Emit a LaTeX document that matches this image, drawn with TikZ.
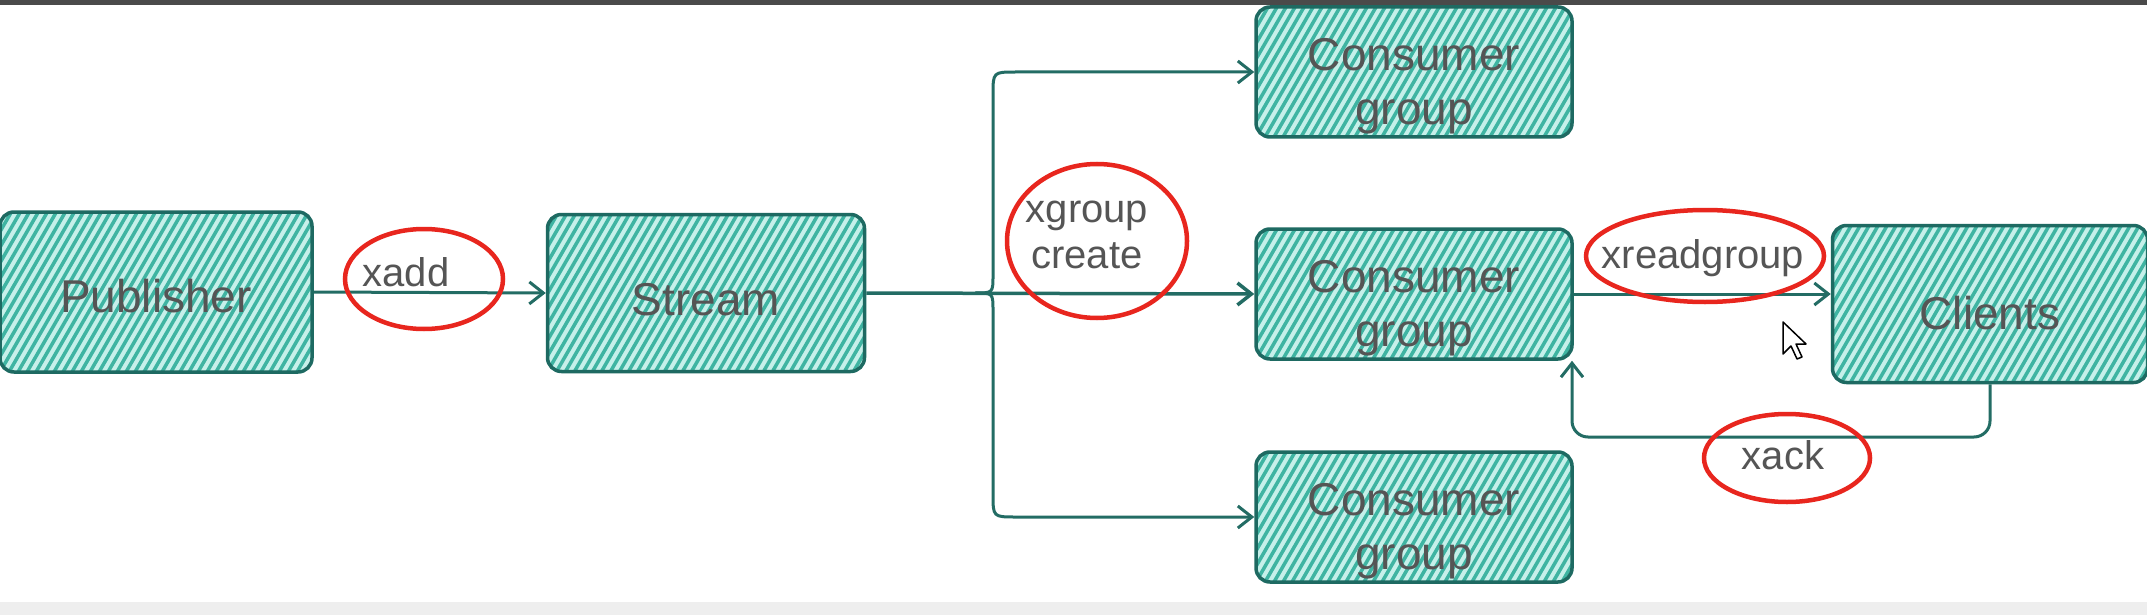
\documentclass[tikz,border=0pt]{standalone}
\usepackage{fontspec}
\setmainfont{Liberation Sans}
\usetikzlibrary{arrows.meta}
\definecolor{boxfill}{HTML}{C6F0EA}
\definecolor{hatchc}{HTML}{3FB4A2}
\definecolor{boxline}{HTML}{1E6A62}
\definecolor{connc}{HTML}{236C64}
\definecolor{txtc}{HTML}{555555}
\definecolor{markred}{HTML}{E8261E}
\definecolor{topbar}{HTML}{4A4A4A}
\definecolor{botband}{HTML}{EEEEEE}
\newcommand\lowertext[2]{\raisebox{#1}[0pt][0pt]{\begin{tabular}{@{}c@{}}#2\end{tabular}}}
\begin{document}
\begin{tikzpicture}[x=1pt,y=-1pt,
  hbox/.style={draw=boxline, line width=3.5pt, fill=boxfill, rounded corners=14pt,
    inner sep=0pt, align=center, text=txtc, font=\fontsize{46}{54}\selectfont,
    path picture={\foreach \k in {-14,...,40}{\draw[hatchc, line width=3.5pt]
      ([xshift=\k*9pt]path picture bounding box.south west) -- ++(60:220pt);}}},
  conn/.style={draw=connc, line width=3pt, -{Straight Barb[length=14pt,width=22pt]}},
  lbl/.style={text=txtc, font=\fontsize{40}{46}\selectfont, align=center, inner sep=0pt},
  redmark/.style={draw=markred, line width=4.5pt}]
\useasboundingbox (0,0) rectangle (2147,615);
\fill[white] (0,0) rectangle (2147,615);
\fill[topbar] (0,0) rectangle (2147,5);
\fill[botband] (0,602) rectangle (2147,615);

% boxes
\node[hbox, minimum width=312pt, minimum height=160pt] (pub) at (156,292) {\lowertext{-16pt}{Publisher}};
\node[hbox, minimum width=317pt, minimum height=157pt] (stream) at (706,293) {\lowertext{-18pt}{Stream}};
\node[hbox, minimum width=316pt, minimum height=130pt] (cg1) at (1414,72) {\lowertext{-21pt}{Consumer\\group}};
\node[hbox, minimum width=316pt, minimum height=130pt] (cg2) at (1414,294) {\lowertext{-21pt}{Consumer\\group}};
\node[hbox, minimum width=316pt, minimum height=130pt] (cg3) at (1414,517) {\lowertext{-21pt}{Consumer\\group}};
\node[hbox, minimum width=315pt, minimum height=157pt] (cli) at (1990,304) {\lowertext{-21pt}{Clients}};

% connectors
\draw[conn] (pub.east) -- (stream.west);
\coordinate (cusp) at (975,293);
\draw[conn, line width=3.5pt] (stream.east) -- (cg2.west);
\draw[conn] (cusp) .. controls (993,293) .. (993,275) -- (993,95)
  .. controls (993,72) .. (1016,72) -- (cg1.west);
\draw[conn] (cusp) .. controls (993,293) .. (993,311) -- (993,494)
  .. controls (993,517) .. (1016,517) -- (cg3.west);
\draw[conn] (cg2.east) -- (cg2.east -| cli.west);
\coordinate (ret) at (1572,437);
\draw[conn, rounded corners=16pt] (cli.south) |- (ret) -- (ret |- cg2.south);

% labels
\node[lbl] (lxadd) at (406,272) {xadd};
\node[lbl] (lxgc) at (1087,235) {xgroup\\create};
\node[lbl] (lxrg) at (1703,258) {xreadgroup};
\node[lbl] (lxack) at (1783,455) {xack};

% red marks
\draw[redmark] (424,279) ellipse (79 and 50);
\draw[redmark] (1097,241) ellipse (90 and 77);
\draw[redmark] (1705,256) ellipse (119 and 46);
\draw[redmark] (1787,458) ellipse (83 and 44);

% mouse cursor
\draw[fill=white, line width=1.5pt, line join=round] (1783,322) -- (1783,354) -- (1791,346)
  -- (1797,359) -- (1802,357) -- (1796,344) -- (1806,344) -- cycle;
\end{tikzpicture}
\end{document}
